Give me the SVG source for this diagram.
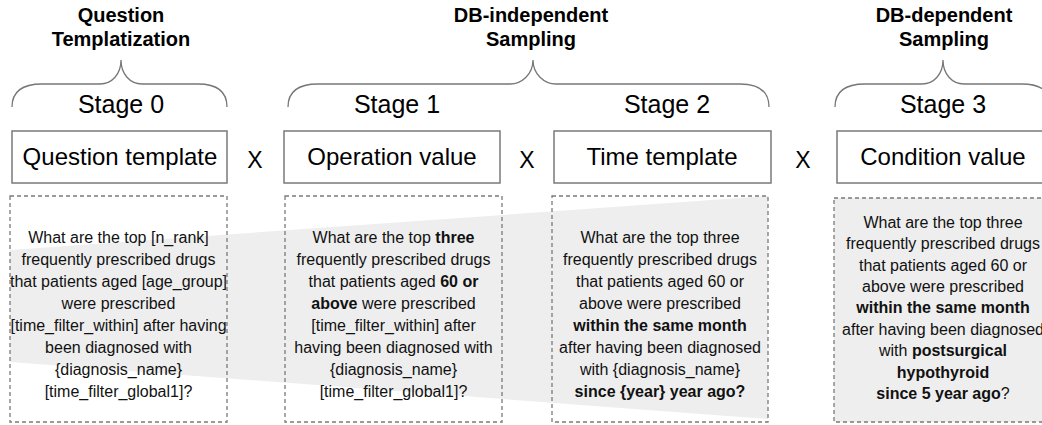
<svg xmlns="http://www.w3.org/2000/svg" width="1042" height="425" viewBox="0 0 1042 425">
<style>
.hdr{font-family:"Liberation Sans",Arial,sans-serif;font-weight:bold;font-size:20px;fill:#000;text-anchor:middle}
.stg{font-family:"Liberation Sans",Arial,sans-serif;font-size:25px;fill:#000;text-anchor:middle}
.lbl{font-family:"Liberation Sans",Arial,sans-serif;font-size:24px;fill:#000;text-anchor:middle}
.x{font-family:"Liberation Sans",Arial,sans-serif;font-size:23px;fill:#000;text-anchor:middle}
.body{font-family:"Liberation Sans",Arial,sans-serif;font-size:16px;fill:#111;text-anchor:middle}
.b{font-weight:bold}
.brace{fill:none;stroke:#777;stroke-width:1.3}
.solid{fill:#fff;stroke:#7a7a7a;stroke-width:1.5}
.dash{fill:none;stroke:#7a7a7a;stroke-width:1.3;stroke-dasharray:4 3}
</style>
<rect width="1042" height="425" fill="#fff"/>
<polygon points="10,250 768,196 768,419 10,362" fill="#eeeeee"/>
<rect x="834" y="198" width="220" height="224" fill="#eeeeee"/>

<g id="headers">
<text class="hdr" x="121" y="22">Question</text>
<text class="hdr" x="121" y="46">Templatization</text>
<text class="hdr" x="531" y="22">DB-independent</text>
<text class="hdr" x="531" y="46">Sampling</text>
<text class="hdr" x="944" y="22">DB-dependent</text>
<text class="hdr" x="944" y="46">Sampling</text>
</g>

<g id="braces">
<path class="brace" d="M12,107 C12,92 22,84 42,84 L100,84 C112,84 121,74 121,60 C121,74 130,84 142,84 L198,84 C218,84 227,92 227,107"/>
<path class="brace" d="M288,107 C288,92 298,84 318,84 L510,84 C522,84 533,74 533,60 C533,74 544,84 556,84 L740,84 C760,84 769,92 769,107"/>
<path class="brace" d="M835,107 C835,92 845,84 865,84 L922,84 C934,84 943,74 943,60 C943,74 952,84 964,84 L1022,84 C1042,84 1051,92 1051,107"/>
</g>

<g id="stages">
<text class="stg" x="121" y="113">Stage 0</text>
<text class="stg" x="397" y="113">Stage 1</text>
<text class="stg" x="667" y="113">Stage 2</text>
<text class="stg" x="943" y="113">Stage 3</text>
</g>

<g id="node-question-template">
<rect class="solid" x="12" y="131" width="215" height="52"/>
<text class="lbl" x="120" y="165">Question template</text>
</g>
<g id="node-operation-value">
<rect class="solid" x="284" y="131" width="216" height="52"/>
<text class="lbl" x="392" y="165">Operation value</text>
</g>
<g id="node-time-template">
<rect class="solid" x="554" y="131" width="217" height="52"/>
<text class="lbl" x="662" y="165">Time template</text>
</g>
<g id="node-condition-value">
<rect class="solid" x="837" y="131" width="215" height="52"/>
<text class="lbl" x="943" y="165">Condition value</text>
</g>

<g id="connectors">
<text class="x" x="255" y="168">X</text>
<text class="x" x="527" y="168">X</text>
<text class="x" x="803" y="168">X</text>
</g>

<g id="example-0">
<rect class="dash" x="10" y="196" width="217" height="226"/>
<text class="body" x="118.5" y="243">What are the top [n_rank]</text>
<text class="body" x="118.5" y="265">frequently prescribed drugs</text>
<text class="body" x="118.5" y="287">that patients aged [age_group]</text>
<text class="body" x="118.5" y="309">were prescribed</text>
<text class="body" x="118.5" y="331">[time_filter_within] after having</text>
<text class="body" x="118.5" y="353">been diagnosed with</text>
<text class="body" x="118.5" y="375">{diagnosis_name}</text>
<text class="body" x="118.5" y="397">[time_filter_global1]?</text>
</g>

<g id="example-1">
<rect class="dash" x="285" y="196" width="217" height="226"/>
<text class="body" x="393.5" y="243">What are the top <tspan class="b">three</tspan></text>
<text class="body" x="393.5" y="265">frequently prescribed drugs</text>
<text class="body" x="393.5" y="287">that patients aged <tspan class="b">60 or</tspan></text>
<text class="body" x="393.5" y="309"><tspan class="b">above</tspan> were prescribed</text>
<text class="body" x="393.5" y="331">[time_filter_within] after</text>
<text class="body" x="393.5" y="353">having been diagnosed with</text>
<text class="body" x="393.5" y="375">{diagnosis_name}</text>
<text class="body" x="393.5" y="397">[time_filter_global1]?</text>
</g>

<g id="example-2">
<rect class="dash" x="552" y="196" width="216" height="226"/>
<text class="body" x="660" y="243">What are the top three</text>
<text class="body" x="660" y="265">frequently prescribed drugs</text>
<text class="body" x="660" y="287">that patients aged 60 or</text>
<text class="body" x="660" y="309">above were prescribed</text>
<text class="body b" x="660" y="331">within  the same month</text>
<text class="body" x="660" y="353">after having been diagnosed</text>
<text class="body" x="660" y="375">with {diagnosis_name}</text>
<text class="body b" x="660" y="397">since {year} year ago?</text>
</g>

<g id="example-3">
<rect class="dash" x="834" y="198" width="220" height="224"/>
<text class="body" x="943" y="228">What are the top three</text>
<text class="body" x="943" y="249">frequently prescribed drugs</text>
<text class="body" x="943" y="271">that patients aged 60 or</text>
<text class="body" x="943" y="292">above were prescribed</text>
<text class="body b" x="943" y="313">within  the same month</text>
<text class="body" x="943" y="335">after having been diagnosed</text>
<text class="body" x="943" y="356">with <tspan class="b">postsurgical</tspan></text>
<text class="body b" x="943" y="378">hypothyroid</text>
<text class="body" x="943" y="399"><tspan class="b">since 5 year ago</tspan>?</text>
</g>
</svg>
